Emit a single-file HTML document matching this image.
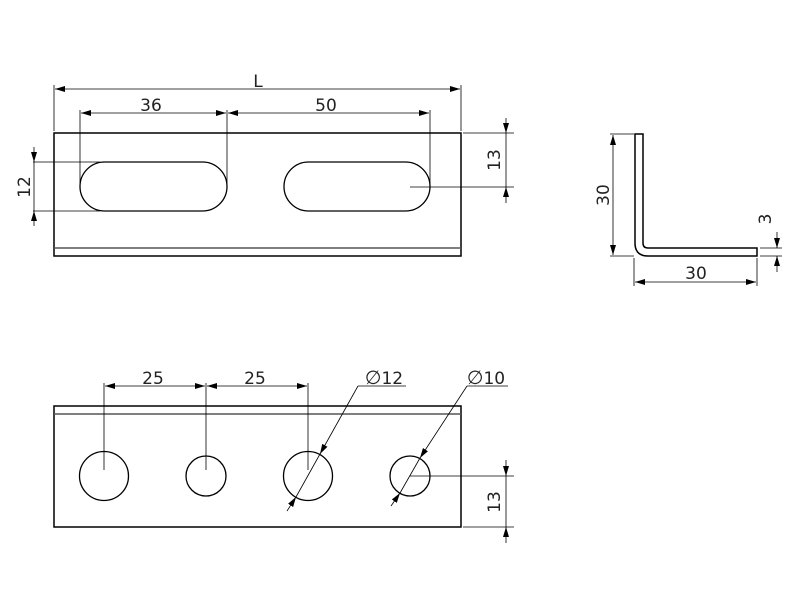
<!DOCTYPE html>
<html><head><meta charset="utf-8"><style>
html,body{margin:0;padding:0;background:#fff;width:800px;height:600px;overflow:hidden}
text{font-family:"DejaVu Sans","Liberation Sans",sans-serif;font-size:17px;fill:#222}
</style></head><body>
<svg width="800" height="600" viewBox="0 0 800 600" xmlns="http://www.w3.org/2000/svg">
<defs>
<marker id="a" viewBox="0 0 10 6" refX="10" refY="3" markerWidth="10" markerHeight="6" orient="auto-start-reverse" markerUnits="userSpaceOnUse"><path d="M0,0L10,3L0,6z" fill="#000"/></marker>
</defs>
<g fill="none" stroke="#000">
<rect x="54" y="133" width="407" height="123" stroke-width="1.5"/>
<line x1="54" y1="248" x2="461" y2="248" stroke="#555" stroke-width="1.5"/>
<rect x="80" y="162" width="147" height="49" rx="24.5" stroke-width="1.3"/>
<rect x="284" y="162" width="146" height="49" rx="24.5" stroke-width="1.3"/>
<g stroke-width="0.8">
<line x1="54" y1="85" x2="54" y2="131"/><line x1="461" y1="85" x2="461" y2="131"/>
<line x1="55" y1="89" x2="460" y2="89" marker-start="url(#a)" marker-end="url(#a)"/>
<line x1="80" y1="110" x2="80" y2="186"/><line x1="227" y1="110" x2="227" y2="186"/><line x1="430" y1="110" x2="430" y2="186"/>
<line x1="81" y1="113" x2="226" y2="113" marker-start="url(#a)" marker-end="url(#a)"/>
<line x1="228" y1="113" x2="429" y2="113" marker-start="url(#a)" marker-end="url(#a)"/>
<line x1="33" y1="162" x2="100" y2="162"/><line x1="33" y1="211" x2="100" y2="211"/>
<line x1="34" y1="147" x2="34" y2="162" marker-end="url(#a)"/><line x1="34" y1="162" x2="34" y2="211"/><line x1="34" y1="226" x2="34" y2="211" marker-end="url(#a)"/>
<line x1="463" y1="133" x2="514" y2="133"/><line x1="410" y1="187" x2="514" y2="187"/>
<line x1="506" y1="118" x2="506" y2="133" marker-end="url(#a)"/><line x1="506" y1="133" x2="506" y2="187"/><line x1="506" y1="203" x2="506" y2="187" marker-end="url(#a)"/>
</g>
<path d="M635,134 L643,134 L643,243 Q643,248 648,248 L757,248 L757,256 L648,256 Q635,256 635,243 Z" stroke-width="1.5"/>
<g stroke-width="0.8">
<line x1="610" y1="134" x2="634" y2="134"/><line x1="610" y1="256" x2="634" y2="256"/>
<line x1="613" y1="135" x2="613" y2="255" marker-start="url(#a)" marker-end="url(#a)"/>
<line x1="634" y1="258" x2="634" y2="286"/><line x1="757" y1="258" x2="757" y2="286"/>
<line x1="635" y1="282" x2="756" y2="282" marker-start="url(#a)" marker-end="url(#a)"/>
<line x1="760" y1="248" x2="782" y2="248"/><line x1="760" y1="256" x2="782" y2="256"/>
<line x1="777" y1="232" x2="777" y2="248" marker-end="url(#a)"/><line x1="777" y1="272" x2="777" y2="256" marker-end="url(#a)"/>
</g>
<rect x="54" y="406" width="407" height="121" stroke-width="1.5"/>
<line x1="54" y1="414" x2="461" y2="414" stroke="#555" stroke-width="1.5"/>
<circle cx="104" cy="476" r="24.5" stroke-width="1.3"/>
<circle cx="206" cy="476" r="20" stroke-width="1.3"/>
<circle cx="308" cy="476" r="24.5" stroke-width="1.3"/>
<circle cx="410" cy="476" r="20" stroke-width="1.3"/>
<g stroke-width="0.8">
<line x1="104" y1="383" x2="104" y2="470"/><line x1="206" y1="383" x2="206" y2="470"/><line x1="308" y1="383" x2="308" y2="470"/>
<line x1="105" y1="386" x2="205" y2="386" marker-start="url(#a)" marker-end="url(#a)"/>
<line x1="207" y1="386" x2="307" y2="386" marker-start="url(#a)" marker-end="url(#a)"/>
<line x1="358" y1="386" x2="406" y2="386"/>
<line x1="358" y1="386" x2="320" y2="454" marker-end="url(#a)"/>
<line x1="320" y1="454" x2="296" y2="497"/>
<line x1="287" y1="511" x2="296" y2="497" marker-end="url(#a)"/>
<line x1="467" y1="386" x2="508" y2="386"/>
<line x1="467" y1="386" x2="420" y2="458" marker-end="url(#a)"/>
<line x1="420" y1="458" x2="400" y2="493"/>
<line x1="391" y1="506" x2="400" y2="493" marker-end="url(#a)"/>
<line x1="410" y1="476" x2="514" y2="476"/><line x1="463" y1="527" x2="514" y2="527"/>
<line x1="506" y1="460" x2="506" y2="476" marker-end="url(#a)"/><line x1="506" y1="476" x2="506" y2="527"/><line x1="506" y1="543" x2="506" y2="527" marker-end="url(#a)"/>
</g>
</g>
<text x="258" y="87" text-anchor="middle">L</text>
<text x="151" y="111" text-anchor="middle">36</text>
<text x="326" y="111" text-anchor="middle">50</text>
<text transform="translate(30,187) rotate(-90)" text-anchor="middle">12</text>
<text transform="translate(500,160) rotate(-90)" text-anchor="middle">13</text>
<text transform="translate(609,195) rotate(-90)" text-anchor="middle">30</text>
<text x="696" y="279" text-anchor="middle">30</text>
<text transform="translate(771,219) rotate(-90)" text-anchor="middle">3</text>
<text x="153" y="384" text-anchor="middle">25</text>
<text x="255" y="384" text-anchor="middle">25</text>
<text x="384" y="384" text-anchor="middle"><tspan font-size="19">∅</tspan>12</text>
<text x="486" y="384" text-anchor="middle"><tspan font-size="19">∅</tspan>10</text>
<text transform="translate(500,502) rotate(-90)" text-anchor="middle">13</text>
</svg>
</body></html>
